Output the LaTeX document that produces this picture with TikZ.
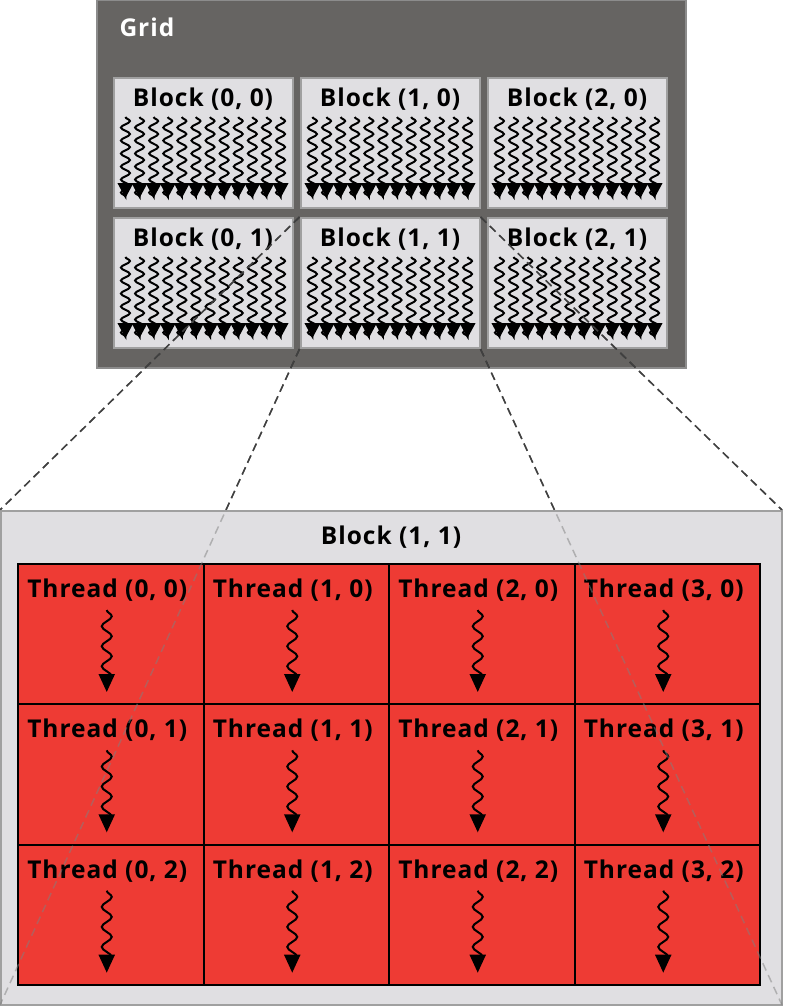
\documentclass[tikz,border=0pt]{standalone}
\usepackage{fontspec}
\setmainfont[LetterSpace=4]{Open Sans}
\usetikzlibrary{positioning,calc,arrows.meta,decorations.pathmorphing}
\definecolor{gridgray}{RGB}{102,100,98}
\definecolor{gridedge}{RGB}{140,140,140}
\definecolor{blockgray}{RGB}{224,223,226}
\definecolor{blockedge}{RGB}{160,160,160}
\definecolor{threadred}{RGB}{238,59,52}

\begin{document}
\begin{tikzpicture}[x=1pt, y=-1pt, font=\bfseries\fontsize{24.5}{29}\selectfont]
	\tikzstyle{gridbox}=[draw=gridedge, line width=2pt, fill=gridgray, inner sep=0pt]
	\tikzstyle{blockbox}=[draw=blockedge, line width=2pt, fill=blockgray, inner sep=0pt, minimum width=179pt, minimum height=130pt]
	\tikzstyle{cellbox}=[draw=black, line width=2pt, fill=threadred, inner sep=0pt, minimum width=185.5pt, minimum height=140.33pt]
	\tikzstyle{tinywave}=[-{Triangle[width=15.5pt,length=15pt]}, line width=2pt, decorate, decoration={snake, amplitude=4.5pt, segment length=13pt, post length=1pt}]
	\tikzstyle{bigwave}=[-{Triangle[width=16pt,length=18pt]}, line width=2pt, decorate, decoration={snake, amplitude=5pt, segment length=20pt, post length=2pt}]
	\tikzstyle{zoomline}=[line width=1.5pt, dash pattern=on 8pt off 5pt]
	\useasboundingbox (0,0) rectangle (785,1007);

	% the grid of blocks
	\node[gridbox, minimum width=589pt, minimum height=368pt] (grid) at (391.5,184) {};
	\node[text=white, anchor=west] (gridtext) at (116,27) {Grid};
	\foreach \i in {0,1,2} {
		\foreach \j in {0,1} {
			\node[blockbox] (b\i\j) at (203+\i*187, 143+\j*140) {};
			\node (bt\i\j) at ($(b\i\j.north)+(0,22)$) {Block (\i, \j)};
			\foreach \k in {0,...,11}
				\draw[tinywave] ($(b\i\j.north)+(-5.5*14.1+\k*14.1, 40)$) -- ++(0,81);
		}
	}

	% zoom lines, behind the big block
	\draw[zoomline] (b11.north west) -- (0,510) coordinate (zl1);
	\draw[zoomline] (b11.north east) -- (782,510) coordinate (zl2);
	\draw[zoomline] (b11.south west) -- (0,1005) coordinate (zl3);
	\draw[zoomline] (b11.south east) -- (782,1005) coordinate (zl4);

	% block (1, 1) close up
	\node[blockbox, minimum width=781pt, minimum height=494pt] (big) at (391,757.5) {};
	\node (bigtext) at ($(big.north)+(0,28)$) {Block (1, 1)};
	\foreach \i in {0,...,3} {
		\foreach \j in {0,1,2} {
			\node[cellbox] (t\i\j) at (18+92.75+\i*185.5, 564+70.17+\j*140.33) {};
			\node (tt\i\j) at ($(t\i\j.north)+(-3.5,27)$) {Thread (\i, \j)};
			\draw[bigwave] ($(t\i\j.north)+(-4,47)$) -- ++(0,82);
		}
	}

	% zoom lines again, seen through
	\draw[zoomline, draw=gray, draw opacity=0.5] (b11.north west) -- (zl1);
	\draw[zoomline, draw=gray, draw opacity=0.5] (b11.north east) -- (zl2);
	\draw[zoomline, draw=gray, draw opacity=0.5] (b11.south west) -- (zl3);
	\draw[zoomline, draw=gray, draw opacity=0.5] (b11.south east) -- (zl4);
\end{tikzpicture}
\end{document}
